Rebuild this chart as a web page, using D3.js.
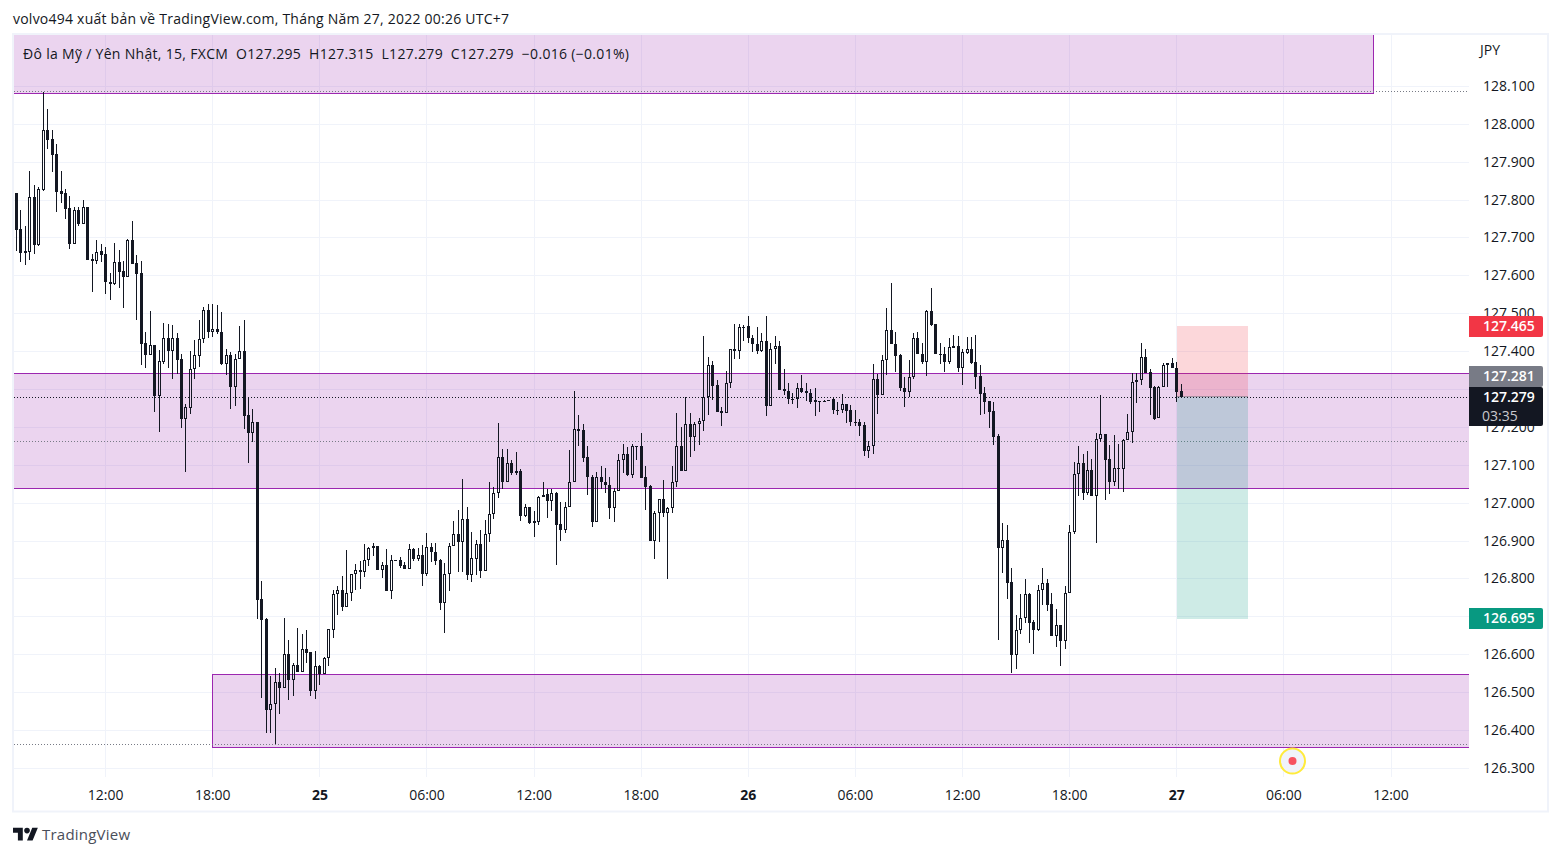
<!DOCTYPE html>
<html>
<head>
<meta charset="utf-8">
<script src="https://cdn.jsdelivr.net/npm/d3@7"></script>
<style>
    html, body { margin: 0; padding: 0; background: #fff; overflow: hidden; }
    text { font-family: "Open Sans", sans-serif; fill: #131722; }
</style>
</head>
<body>
<div id="chart"></div>
<script>
// USD/JPY 15 min candles. Values are in 0.001 above 126
const basePrice = 126;
const opens = [
    1820,1723,1665,1664,1807,1682,1827,1984,1960,1921,
    1823,1818,1778,1685,1773,1738,1781,1644,1640,1665,
    1657,1585,1579,1636,1612,1598,1694,1633,1607,1422,
    1392,1417,1284,1373,1435,1402,1435,1380,1223,1252,
    1355,1389,1432,1509,1453,1459,1453,1368,1390,1307,
    1380,1401,1232,1186,1213,746,693,455,469,527,
    513,601,534,574,555,614,606,505,569,548,
    590,666,759,772,727,764,812,823,819,849,
    881,886,824,836,769,849,849,836,827,878,
    853,862,814,883,870,849,737,812,886,918,
    898,957,811,853,891,822,918,972,1026,1123,
    1056,1107,1080,1086,967,991,952,951,1015,1023,
    1006,1026,944,930,991,1056,1197,1192,1121,1070,
    951,1068,1057,1049,988,1031,1113,1131,1075,1152,
    1152,1068,1044,901,973,1010,975,986,1055,1152,
    1085,1210,1175,1208,1218,1279,1364,1311,1242,1239,
    1316,1406,1402,1466,1467,1437,1421,1401,1429,1257,
    1406,1416,1300,1297,1276,1276,1305,1295,1292,1271,
    1270,1270,1273,1274,1247,1245,1263,1245,1215,1215,
    1205,1137,1152,1329,1285,1377,1456,1421,1390,1305,
    1294,1334,1435,1395,1373,1506,1472,1395,1395,1373,
    1411,1416,1358,1397,1406,1372,1335,1290,1269,1242,
    1176,882,904,791,600,664,696,759,685,666,
    770,788,733,650,677,637,764,925,1078,1105,
    1028,1087,1020,1168,1182,1116,1057,1092,1089,1166,
    1189,1319,1324,1385,1345,1306,1224,1306,1364,1369,
    1358,1295
];
const highs = [
    1820,1774,1732,1877,1839,1834,2086,2040,1984,1947,
    1877,1828,1810,1781,1783,1799,1781,1657,1694,1684,
    1675,1607,1688,1667,1638,1697,1745,1654,1638,1451,
    1506,1417,1403,1475,1472,1469,1448,1395,1263,1401,
    1430,1483,1519,1525,1525,1523,1504,1406,1398,1393,
    1467,1483,1277,1248,1213,794,696,544,564,551,
    696,640,578,670,654,664,606,609,574,593,
    667,772,780,807,875,812,839,846,892,885,
    894,886,844,878,862,850,859,844,892,881,
    881,889,920,894,896,852,841,894,952,982,
    1065,989,923,902,928,955,1055,1042,1211,1144,
    1144,1115,1136,1089,999,991,978,1020,1057,1036,
    1036,1029,1002,1004,1139,1295,1232,1210,1152,1073,
    1081,1097,1094,1070,1041,1129,1155,1147,1155,1152,
    1184,1097,1049,978,1012,1060,991,1097,1237,1202,
    1279,1239,1213,1224,1440,1385,1374,1324,1255,1350,
    1408,1472,1474,1469,1495,1445,1466,1448,1493,1424,
    1440,1427,1355,1316,1292,1316,1337,1316,1300,1303,
    1270,1271,1273,1279,1266,1287,1263,1259,1247,1223,
    1213,1165,1366,1342,1392,1514,1582,1453,1395,1334,
    1377,1450,1453,1424,1511,1567,1472,1424,1413,1435,
    1445,1440,1406,1438,1438,1443,1364,1306,1269,1266,
    1182,947,941,830,704,759,801,762,691,783,
    828,801,764,720,677,780,941,1108,1150,1129,
    1137,1116,1184,1285,1182,1153,1179,1155,1168,1234,
    1343,1343,1424,1406,1353,1308,1308,1369,1369,1382,
    1372,1315
];
const lows = [
    1666,1637,1629,1642,1658,1679,1825,1935,1874,1769,
    1792,1750,1671,1685,1732,1738,1643,1557,1631,1637,
    1552,1536,1576,1568,1515,1598,1632,1483,1365,1357,
    1392,1240,1188,1367,1357,1328,1342,1198,1082,1235,
    1329,1359,1422,1435,1439,1446,1365,1339,1248,1256,
    1380,1196,1106,1162,694,486,393,393,364,443,
    513,480,491,555,555,578,491,483,520,548,
    571,644,705,714,727,742,771,773,805,834,
    860,823,802,769,747,848,830,827,827,848,
    848,781,808,845,837,718,657,768,886,818,
    818,797,793,810,802,822,897,958,1013,1038,
    1056,1075,1075,953,964,946,910,943,1015,960,
    980,836,900,922,991,1056,1151,1109,1021,937,
    951,1038,1027,958,950,1031,1079,1072,1067,1114,
    1067,982,901,852,897,964,800,975,1043,1085,
    1085,1122,1137,1154,1191,1232,1273,1241,1204,1239,
    1305,1380,1380,1428,1423,1399,1394,1399,1230,1257,
    1366,1299,1285,1261,1261,1251,1290,1269,1261,1230,
    1240,1269,1270,1235,1232,1237,1211,1203,1203,1176,
    1124,1119,1129,1235,1285,1337,1421,1345,1297,1253,
    1280,1327,1394,1366,1335,1467,1394,1366,1346,1366,
    1411,1346,1312,1395,1367,1301,1233,1235,1198,1153,
    639,815,747,552,562,654,684,631,602,663,
    730,715,650,620,570,615,764,919,1020,1009,
    1022,1020,896,1162,1009,1025,1046,1038,1030,1166,
    1160,1265,1313,1343,1233,1220,1224,1306,1307,1358,
    1266,1279
];
const closes = [
    1722,1661,1661,1807,1682,1828,1984,1959,1920,1822,
    1817,1777,1685,1773,1738,1781,1643,1640,1664,1656,
    1585,1579,1636,1611,1598,1694,1632,1606,1421,1392,
    1417,1284,1374,1435,1402,1435,1379,1223,1253,1355,
    1390,1432,1509,1453,1459,1453,1368,1390,1307,1380,
    1401,1231,1186,1213,745,692,455,469,527,513,
    601,534,574,555,614,605,505,569,548,590,
    667,759,772,727,764,812,823,819,849,881,
    886,824,836,769,849,849,835,827,878,853,
    862,814,883,870,848,737,812,886,918,898,
    957,811,854,891,822,918,972,1026,1123,1056,
    1107,1080,1086,967,991,948,948,1015,1022,1006,
    1026,943,930,991,1057,1197,1191,1120,1070,951,
    1068,1056,1048,988,1031,1113,1131,1074,1152,1151,
    1067,1043,901,973,1010,975,986,1055,1152,1085,
    1210,1175,1208,1218,1279,1364,1310,1241,1239,1316,
    1406,1402,1464,1463,1436,1421,1401,1429,1257,1406,
    1416,1299,1296,1275,1275,1305,1294,1290,1267,1267,
    1269,1270,1270,1245,1245,1263,1243,1214,1214,1203,
    1137,1152,1329,1285,1377,1456,1421,1389,1303,1294,
    1334,1435,1394,1373,1506,1470,1394,1393,1373,1411,
    1416,1357,1398,1406,1370,1334,1289,1268,1241,1175,
    882,904,790,600,664,696,759,684,666,770,
    788,732,650,677,637,764,925,1078,1105,1028,
    1087,1020,1168,1182,1115,1057,1092,1089,1166,1189,
    1319,1324,1385,1343,1305,1222,1306,1364,1369,1358,
    1294,1279
];

const priceTicks = [126.3,126.4,126.5,126.6,126.7,126.8,126.9,127,127.1,127.2,127.3,127.4,127.5,127.6,127.7,127.8,127.9,128,128.1];
const timeTicks = [20,44,68,92,116,140,164,188,212,236,260,284,308];
const timeLabels = ['12:00','18:00','25','06:00','12:00','18:00','26','06:00','12:00','18:00','27','06:00','12:00'];
const dayLabels = ['25','26','27'];

// zones drawn by the author: [top, bottom, start bar, end bar]
const zoneTops = [128.3, 127.342, 126.548];
const zoneBottoms = [128.082, 127.038, 126.355];
const zoneStarts = [-5, -5, 44];
const zoneEnds = [304, 330, 330];
const dottedGray = [128.086, 127.163, 126.362];
const lastPrice = 127.279;
const entryPrice = 127.281;
const stopPrice = 127.465;
const targetPrice = 126.695;
const positionBars = [260, 276];

const titleText = 'volvo494 xuất bản về TradingView.com, Tháng Năm 27, 2022 00:26 UTC+7';
const legendText = 'Đô la Mỹ / Yên Nhật, 15, FXCM\u00a0\u00a0O127.295\u00a0\u00a0H127.315\u00a0\u00a0L127.279\u00a0\u00a0C127.279\u00a0\u00a0−0.016 (−0.01%)';

const candles = opens.map((o, i) => ({
    i: i,
    open: basePrice + o / 1000,
    high: basePrice + highs[i] / 1000,
    low: basePrice + lows[i] / 1000,
    close: basePrice + closes[i] / 1000
}));

const width = 1562;
const height = 856;
const pane = { left: 14, right: 1469, top: 35, bottom: 777 };

const svg = d3.select('#chart')
    .append('svg')
    .attr('width', width)
    .attr('height', height)
    .style('display', 'block');

const xScale = d3.scaleLinear()
    .domain([0, 320])
    .range([16.4, 16.4 + 320 * 4.463]);

const yScale = d3.scaleLinear()
    .domain([126.3, 128.1])
    .range([768.3, 86.45]);

svg.append('defs').append('clipPath')
    .attr('id', 'pane')
    .append('rect')
    .attr('x', pane.left)
    .attr('y', pane.top)
    .attr('width', pane.right - pane.left)
    .attr('height', pane.bottom - pane.top);

// outer frame
svg.append('rect')
    .attr('x', 13)
    .attr('y', 34)
    .attr('width', 1535)
    .attr('height', 777.5)
    .attr('fill', 'none')
    .attr('stroke', '#f0f3fa')
    .attr('stroke-width', 2);

const plot = svg.append('g').attr('clip-path', 'url(#pane)');

// grid
plot.selectAll('.hgrid')
    .data(priceTicks)
    .enter()
    .append('line')
    .attr('x1', pane.left)
    .attr('x2', pane.right)
    .attr('y1', d => Math.floor(yScale(d)) + 0.5)
    .attr('y2', d => Math.floor(yScale(d)) + 0.5)
    .attr('stroke', '#f0f3fa');

plot.selectAll('.vgrid')
    .data(timeTicks)
    .enter()
    .append('line')
    .attr('x1', d => Math.floor(xScale(d)) + 0.5)
    .attr('x2', d => Math.floor(xScale(d)) + 0.5)
    .attr('y1', pane.top)
    .attr('y2', pane.bottom)
    .attr('stroke', '#f0f3fa');

// zones
zoneTops.forEach((top, i) => {
    const y0 = Math.floor(yScale(top)) + 0.5;
    const y1 = Math.floor(yScale(zoneBottoms[i])) + 0.5;
    const x0 = Math.floor(xScale(zoneStarts[i])) + 0.5;
    const x1 = Math.floor(xScale(zoneEnds[i])) + 0.5;
    plot.append('rect')
        .attr('x', x0)
        .attr('y', y0)
        .attr('width', x1 - x0)
        .attr('height', y1 - y0)
        .attr('fill', 'rgba(156,39,176,0.2)')
        .attr('stroke', '#9c27b0');
});

plot.selectAll('.dotted')
    .data(dottedGray)
    .enter()
    .append('line')
    .attr('x1', pane.left)
    .attr('x2', pane.right)
    .attr('y1', d => Math.floor(yScale(d)) + 0.5)
    .attr('y2', d => Math.floor(yScale(d)) + 0.5)
    .attr('stroke', '#787b86')
    .attr('stroke-dasharray', '1 2');

// long position tool
const posX0 = Math.ceil(xScale(positionBars[0]));
const posX1 = Math.floor(xScale(positionBars[1]));
const entryY = Math.round(yScale(entryPrice));
const stopY = Math.floor(yScale(stopPrice));

plot.append('rect')
    .attr('x', posX0)
    .attr('y', stopY)
    .attr('width', posX1 - posX0)
    .attr('height', entryY - stopY)
    .attr('fill', 'rgba(242,54,69,0.2)');

plot.append('rect')
    .attr('x', posX0)
    .attr('y', entryY)
    .attr('width', posX1 - posX0)
    .attr('height', Math.round(yScale(targetPrice)) - entryY)
    .attr('fill', 'rgba(8,153,129,0.2)');

plot.append('line')
    .attr('x1', posX0)
    .attr('x2', posX1)
    .attr('y1', entryY - 0.5)
    .attr('y2', entryY - 0.5)
    .attr('stroke', '#787b86')
    .attr('stroke-opacity', 0.6);

// candles
const candle = plot.selectAll('.candle')
    .data(candles)
    .enter()
    .append('g')
    .attr('class', 'candle')
    .attr('shape-rendering', 'crispEdges')
    .each(function(d) {
        const g = d3.select(this);
        const cx = Math.floor(xScale(d.i));
        const top = Math.round(yScale(Math.max(d.open, d.close)));
        const bottom = Math.round(yScale(Math.min(d.open, d.close)));
        const bodyH = Math.max(1, bottom - top);

        g.append('path')
            .attr('d', `M${cx + 0.5},${yScale(d.high)}V${top}M${cx + 0.5},${top + bodyH}V${yScale(d.low)}`)
            .attr('stroke', '#131722')
            .attr('fill', 'none');

        if (d.close > d.open) {
            g.append('rect')
                .attr('x', cx - 0.5)
                .attr('y', top + 0.5)
                .attr('width', 2)
                .attr('height', Math.max(1, bodyH - 1))
                .attr('fill', 'none')
                .attr('stroke', '#131722');
        } else {
            g.append('rect')
                .attr('x', cx - 1)
                .attr('y', top)
                .attr('width', 3)
                .attr('height', bodyH)
                .attr('fill', '#131722');
        }
    });

// last price line
plot.append('line')
    .attr('x1', pane.left)
    .attr('x2', pane.right)
    .attr('y1', Math.floor(yScale(lastPrice)) + 0.5)
    .attr('y2', Math.floor(yScale(lastPrice)) + 0.5)
    .attr('stroke', '#131722')
    .attr('stroke-dasharray', '1 2');

// axes
const yAxis = d3.axisRight(yScale)
    .tickValues(priceTicks)
    .tickFormat(d3.format('.3f'))
    .tickSize(0)
    .tickPadding(0);

svg.append('g')
    .attr('class', 'y-axis')
    .attr('transform', 'translate(1483,-0.5)')
    .call(yAxis)
    .call(g => g.select('.domain').remove())
    .selectAll('text')
    .style('font-size', '14px');

const xAxis = d3.axisBottom(xScale)
    .tickValues(timeTicks)
    .tickFormat((d, i) => timeLabels[i])
    .tickSize(0)
    .tickPadding(13);

svg.append('g')
    .attr('class', 'x-axis')
    .attr('transform', 'translate(-0.5,777)')
    .call(xAxis)
    .call(g => g.select('.domain').remove())
    .selectAll('text')
    .style('font-size', '14px')
    .style('font-weight', (d, i) => dayLabels.includes(timeLabels[i]) ? '700' : '400');

// price labels on the right
function priceBox(y, h, color, label) {
    svg.append('path')
        .attr('d', `M1469,${y}H1541a2,2 0 0 1 2,2V${y + h - 2}a2,2 0 0 1 -2,2H1469Z`)
        .attr('fill', color);
    svg.append('text')
        .attr('x', 1483)
        .attr('y', y + 15)
        .style('fill', '#fff')
        .style('font-size', '14px')
        .style('font-weight', '600')
        .text(label);
}

const lastTop = Math.round(yScale(lastPrice)) - 10;
priceBox(Math.round(yScale(stopPrice)) - 11, 21, '#f23645', stopPrice.toFixed(3));
priceBox(lastTop - 21, 21, '#787b86', entryPrice.toFixed(3));
priceBox(lastTop, 39, '#131722', lastPrice.toFixed(3));
priceBox(Math.round(yScale(targetPrice)) - 11, 21, '#089981', targetPrice.toFixed(3));

svg.append('text')
    .attr('x', 1482)
    .attr('y', lastTop + 34)
    .style('fill', '#c8c9cd')
    .style('font-size', '14px')
    .text('03:35');

svg.append('text')
    .attr('x', 1480)
    .attr('y', 55)
    .style('font-size', '14px')
    .text('JPY');

// title and legend
svg.append('text')
    .attr('x', 13)
    .attr('y', 24)
    .attr('textLength', 496)
    .style('font-size', '14px')
    .text(titleText);

svg.append('text')
    .attr('x', 23)
    .attr('y', 59)
    .attr('textLength', 606)
    .style('font-size', '14px')
    .text(legendText);

// replay marker
svg.append('circle')
    .attr('cx', 1292.5)
    .attr('cy', 761)
    .attr('r', 12.5)
    .attr('fill', '#f0f3fa')
    .attr('stroke', '#ffeb3b')
    .attr('stroke-width', 2);

svg.append('circle')
    .attr('cx', 1292.5)
    .attr('cy', 761)
    .attr('r', 4)
    .attr('fill', '#f7525f');

// logo
const logo = svg.append('g')
    .attr('transform', 'translate(13,825) scale(0.7)');

logo.append('path')
    .attr('d', 'M14 22H7V11H0V4h14v18zM28 22h-8l7.5-18h8L28 22z')
    .attr('fill', '#131722');

logo.append('circle')
    .attr('cx', 20)
    .attr('cy', 8)
    .attr('r', 4)
    .attr('fill', '#131722');

svg.append('text')
    .attr('x', 42)
    .attr('y', 840)
    .attr('textLength', 88)
    .style('font-size', '15px')
    .style('fill', '#4a4e59')
    .text('TradingView');
</script>
</body>
</html>
